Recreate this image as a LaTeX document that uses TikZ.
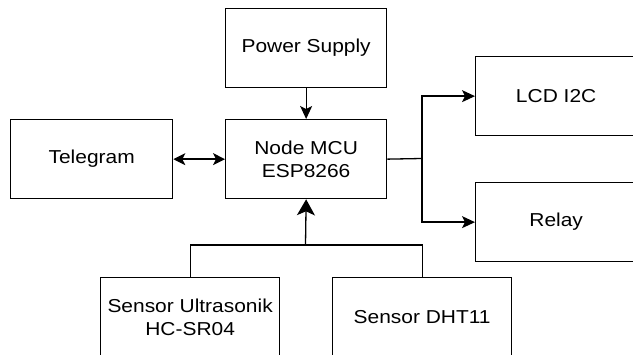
\documentclass[tikz,border=0pt]{standalone}
\usepackage{fontspec}
\setmainfont{Liberation Sans}[FakeStretch=1.12]
\usetikzlibrary{arrows.meta}
\begin{document}
\begin{tikzpicture}[x=1pt,y=-1pt,
  blk/.style={draw=black, line width=1.3pt, minimum width=161pt, minimum height=79pt,
    inner sep=0pt, align=center, anchor=north west,
    font=\fontsize{18.7}{22.7}\selectfont},
  wide/.style={minimum width=179pt},
  wire/.style={draw=black, line width=1.3pt},
  arr/.style={wire, -{Stealth[length=13pt,width=12pt,inset=3pt]}},
  darr/.style={wire, {Stealth[length=12pt,width=12pt,inset=3pt]}-{Stealth[length=12pt,width=12pt,inset=3pt]}},
  bigarr/.style={wire, -{Stealth[length=16pt,width=18pt,inset=4pt]}}]
\useasboundingbox (0,0) rectangle (633,355);
\clip (0,0) rectangle (633,355);
\node[blk] (power) at (225,8) {Power Supply};
\node[blk, minimum width=162pt] (tele) at (10,119) {Telegram};
\node[blk] (mcu) at (225,119) {Node MCU\\ESP8266};
\node[blk] (lcd) at (475,56) {LCD I2C};
\node[blk] (relay) at (475,182) {Relay};
\node[blk, wide] (ultra) at (100,277) {Sensor Ultrasonik\\HC-SR04};
\node[blk, wide] (dht) at (332,277) {Sensor DHT11};
\coordinate (j) at (422,158.5);
\coordinate (b) at (305.5,245);
\draw[arr] (power) -- (mcu);
\draw[darr] (tele) -- (mcu);
\draw[wire] (mcu.east) -- (j);
\draw[arr] (j) |- (lcd.west);
\draw[arr] (j) |- (relay.west);
\draw[bigarr] (b) -- (mcu.south);
\draw[wire] (ultra.north) -- (ultra.north |- b) -- (dht.north |- b) -- (dht.north);
\end{tikzpicture}
\end{document}
